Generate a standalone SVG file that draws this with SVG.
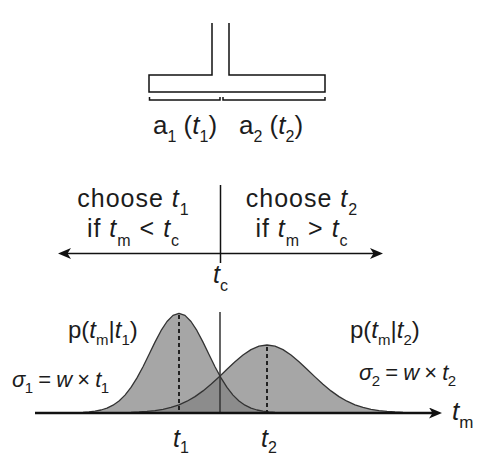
<svg xmlns="http://www.w3.org/2000/svg" width="483" height="470" viewBox="0 0 483 470">
<style>
text{font-family:"Liberation Sans",Arial,sans-serif;fill:#1c1c1c}
.it{font-style:italic}
.ln{fill:none;stroke:#111;stroke-width:1.5}
.curve{fill:#818181;fill-opacity:0.71;stroke:none}
.cs{fill:none;stroke:#333;stroke-width:1.3;stroke-linejoin:round}
.dash{stroke:#222;stroke-width:2;stroke-dasharray:4 3}
</style>
<defs>
<marker id="arr" markerUnits="userSpaceOnUse" markerWidth="14" markerHeight="11" refX="7" refY="5.5" orient="auto-start-reverse">
<path d="M0,0 L13,5.5 L0,11 L3.5,5.5 Z" fill="#111"/>
</marker>
</defs>
<rect width="483" height="470" fill="#fff"/>

<g id="tube">
<polyline class="ln" points="212,23 212,75 149,75 149,92 325,92 325,75 229,75 229,23"/>
<polyline class="ln" stroke-width="1.3" points="149.5,97 149.5,100 220,100 220,97"/>
<polyline class="ln" stroke-width="1.3" points="223,97 223,100 325,100 325,97"/>
<text x="153" y="134" font-size="26">a<tspan font-size="16" dy="8">1</tspan><tspan dy="-8"> (</tspan><tspan class="it">t</tspan><tspan font-size="16" dy="8">1</tspan><tspan dy="-8">)</tspan></text>
<text x="239" y="134" font-size="26">a<tspan font-size="16" dy="8">2</tspan><tspan dy="-8"> (</tspan><tspan class="it">t</tspan><tspan font-size="16" dy="8">2</tspan><tspan dy="-8">)</tspan></text>
</g>

<g id="decision">
<line class="ln" x1="220.5" y1="185" x2="220.5" y2="263" stroke-width="2"/>
<line class="ln" x1="64" y1="253.5" x2="377" y2="253.5" stroke-width="2" marker-start="url(#arr)" marker-end="url(#arr)"/>
<text x="133.5" y="207" font-size="25" letter-spacing="1" text-anchor="middle">choose <tspan class="it">t</tspan><tspan font-size="16" dy="8">1</tspan></text>
<text x="133.5" y="237" font-size="25" letter-spacing="1" text-anchor="middle">if <tspan class="it">t</tspan><tspan font-size="16" dy="9">m</tspan><tspan dy="-9"> &lt; </tspan><tspan class="it">t</tspan><tspan font-size="16" dy="9">c</tspan></text>
<text x="302" y="207" font-size="25" letter-spacing="1" text-anchor="middle">choose <tspan class="it">t</tspan><tspan font-size="16" dy="8">2</tspan></text>
<text x="302" y="237" font-size="25" letter-spacing="1" text-anchor="middle">if <tspan class="it">t</tspan><tspan font-size="16" dy="9">m</tspan><tspan dy="-9"> &gt; </tspan><tspan class="it">t</tspan><tspan font-size="16" dy="9">c</tspan></text>
<text x="213" y="283" font-size="25"><tspan class="it">t</tspan><tspan font-size="16" dy="8">c</tspan></text>
</g>

<g id="distributions">
<path class="curve" d="M83,412.7 L83,412.3 89,411.9 95,411.2 101,410.0 107,408.1 113,405.2 119,401.0 125,395.1 131,387.4 137,377.9 143,366.7 149,354.5 155,342.1 161,330.7 167,321.5 173,315.4 179,313.3 185,315.4 191,321.5 197,330.7 203,342.1 209,354.5 215,366.7 221,377.9 227,387.4 233,395.1 239,401.0 245,405.2 251,408.1 257,410.0 263,411.2 269,411.9 275,412.3 275,412.7 Z"/>
<path class="curve" d="M131,412.7 L131,412.3 139,412.0 147,411.4 155,410.6 163,409.3 171,407.4 179,404.8 187,401.2 195,396.6 203,390.9 211,384.3 219,376.9 227,369.2 235,361.7 243,355.0 251,349.6 259,346.2 267,345.0 275,346.2 283,349.6 291,355.0 299,361.7 307,369.2 315,376.9 323,384.3 331,390.9 339,396.6 347,401.2 355,404.8 363,407.4 371,409.3 379,410.6 387,411.4 395,412.0 403,412.3 403,412.7 Z"/>
<polyline class="cs" points="83,412.3 89,411.9 95,411.2 101,410.0 107,408.1 113,405.2 119,401.0 125,395.1 131,387.4 137,377.9 143,366.7 149,354.5 155,342.1 161,330.7 167,321.5 173,315.4 179,313.3 185,315.4 191,321.5 197,330.7 203,342.1 209,354.5 215,366.7 221,377.9 227,387.4 233,395.1 239,401.0 245,405.2 251,408.1 257,410.0 263,411.2 269,411.9 275,412.3"/>
<polyline class="cs" points="131,412.3 139,412.0 147,411.4 155,410.6 163,409.3 171,407.4 179,404.8 187,401.2 195,396.6 203,390.9 211,384.3 219,376.9 227,369.2 235,361.7 243,355.0 251,349.6 259,346.2 267,345.0 275,346.2 283,349.6 291,355.0 299,361.7 307,369.2 315,376.9 323,384.3 331,390.9 339,396.6 347,401.2 355,404.8 363,407.4 371,409.3 379,410.6 387,411.4 395,412.0 403,412.3"/>
<line class="dash" x1="179" y1="315" x2="179" y2="412"/>
<line class="dash" x1="267" y1="347" x2="267" y2="412"/>
<line x1="220" y1="312" x2="220" y2="413" stroke="#333" stroke-width="1.5"/>
<line x1="35" y1="413" x2="436" y2="413" stroke="#111" stroke-width="2.5" marker-end="url(#arr)"/>
<text x="68" y="338" font-size="24">p(<tspan class="it">t</tspan><tspan font-size="15" dy="7">m</tspan><tspan dy="-7">|</tspan><tspan class="it">t</tspan><tspan font-size="15" dy="7">1</tspan><tspan dy="-7">)</tspan></text>
<text x="350" y="338" font-size="24">p(<tspan class="it">t</tspan><tspan font-size="15" dy="7">m</tspan><tspan dy="-7">|</tspan><tspan class="it">t</tspan><tspan font-size="15" dy="7">2</tspan><tspan dy="-7">)</tspan></text>
<text x="12" y="387" font-size="22" letter-spacing="-0.5"><tspan class="it">σ</tspan><tspan font-size="15" dy="6">1</tspan><tspan dy="-6"> = </tspan><tspan class="it">w</tspan> × <tspan class="it">t</tspan><tspan font-size="15" dy="6">1</tspan></text>
<text x="359" y="380" font-size="22" letter-spacing="-0.5"><tspan class="it">σ</tspan><tspan font-size="15" dy="6">2</tspan><tspan dy="-6"> = </tspan><tspan class="it">w</tspan> × <tspan class="it">t</tspan><tspan font-size="15" dy="6">2</tspan></text>
<text x="173" y="447" font-size="25"><tspan class="it">t</tspan><tspan font-size="16" dy="6">1</tspan></text>
<text x="261" y="447" font-size="25"><tspan class="it">t</tspan><tspan font-size="16" dy="6">2</tspan></text>
<text x="452" y="420" font-size="26"><tspan class="it">t</tspan><tspan font-size="17" dy="8">m</tspan></text>
</g>
</svg>
